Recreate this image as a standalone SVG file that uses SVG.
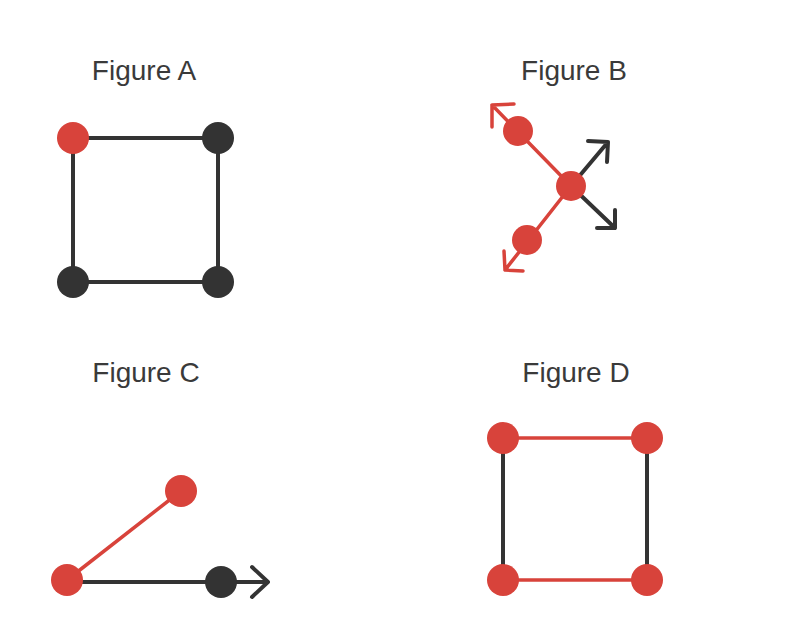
<svg xmlns="http://www.w3.org/2000/svg" width="800" height="625" viewBox="0 0 800 625">
<style>
.t{font-family:"Liberation Sans",Arial,sans-serif;font-size:28px;fill:#3a3a3a;text-anchor:middle}
.r{fill:#d8433b}
.k{fill:#333333}
.lk{stroke:#333333;stroke-width:4;fill:none;stroke-linecap:round;stroke-linejoin:round}
.lr{stroke:#d8433b;stroke-width:3.5;fill:none;stroke-linecap:round;stroke-linejoin:round}
</style>
<rect width="800" height="625" fill="#ffffff"/>
<text class="t" x="144" y="80">Figure A</text>
<text class="t" x="574" y="80">Figure B</text>
<text class="t" x="146" y="382">Figure C</text>
<text class="t" x="576" y="382">Figure D</text>
<g id="connectors">
<!-- A -->
<path class="lk" d="M73 138H218V282H73Z"/>
<!-- B -->
<path class="lr" d="M571 186L492 105M492 105L492 127M492 105L514 104"/>
<path class="lr" d="M571 186L505 270M505 270L504 251M505 270L523 271"/>
<path class="lk" d="M571 186L608 142M608 142L588 141M608 142L607 162"/>
<path class="lk" d="M571 186L615 228M615 228L597 228M615 228L615 210"/>
<!-- C -->
<path class="lr" d="M67 580L181 491"/>
<path class="lk" d="M67 582H268M268 582L252 567M268 582L252 597"/>
<!-- D -->
<path class="lr" d="M503 438H647M503 580H647"/>
<path class="lk" d="M503 438V580M647 438V580"/>
</g>
<g id="A1"><circle class="r" cx="73" cy="138" r="16"/></g>
<g id="A2"><circle class="k" cx="218" cy="138" r="16"/></g>
<g id="A3"><circle class="k" cx="73" cy="282" r="16"/></g>
<g id="A4"><circle class="k" cx="218" cy="282" r="16"/></g>
<g id="B1"><circle class="r" cx="518" cy="131" r="15"/></g>
<g id="B2"><circle class="r" cx="571" cy="186" r="15"/></g>
<g id="B3"><circle class="r" cx="527" cy="240" r="15"/></g>
<g id="C1"><circle class="r" cx="67" cy="580" r="16"/></g>
<g id="C2"><circle class="r" cx="181" cy="491" r="16"/></g>
<g id="C3"><circle class="k" cx="221" cy="582" r="16"/></g>
<g id="D1"><circle class="r" cx="503" cy="438" r="16"/></g>
<g id="D2"><circle class="r" cx="647" cy="438" r="16"/></g>
<g id="D3"><circle class="r" cx="503" cy="580" r="16"/></g>
<g id="D4"><circle class="r" cx="647" cy="580" r="16"/></g>
</svg>
